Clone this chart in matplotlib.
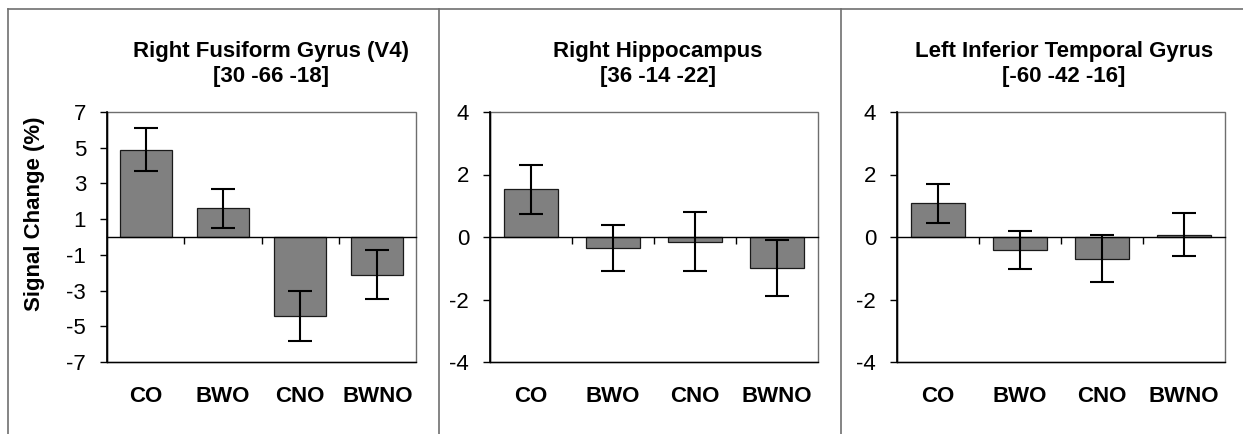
import numpy as np
import matplotlib
matplotlib.use("Agg")
import matplotlib.pyplot as plt
from matplotlib.patches import Rectangle
from matplotlib.lines import Line2D

plt.rcParams['font.family'] = ['Liberation Sans', 'DejaVu Sans']

categories = ["CO", "BWO", "CNO", "BWNO"]

titles = ["Right Fusiform Gyrus (V4)\n[30 -66 -18]",
          "Right Hippocampus\n[36 -14 -22]",
          "Left Inferior Temporal Gyrus\n[-60 -42 -16]"]

fusiform_mean = [4.9, 1.6, -4.4, -2.1]
fusiform_err = [1.2, 1.1, 1.4, 1.35]

hippocampus_mean = [1.53, -0.36, -0.15, -1.0]
hippocampus_err = [0.79, 0.73, 0.95, 0.9]

temporal_mean = [1.08, -0.42, -0.69, 0.08]
temporal_err = [0.63, 0.6, 0.75, 0.68]

yticks_1 = [-7, -5, -3, -1, 1, 3, 5, 7]
yticks_23 = [-4, -2, 0, 2, 4]

W, H = 1243, 434
fig = plt.figure(figsize=(W / 100, H / 100), dpi=100)

# axes rects in pixel units (left, right)
ax_px = [(107, 416), (490, 818), (897, 1225)]
top_px, bot_px = 112, 362
title_cx = [271, 658, 1064]

panels = [(fusiform_mean, fusiform_err, yticks_1),
          (hippocampus_mean, hippocampus_err, yticks_23),
          (temporal_mean, temporal_err, yticks_23)]

x = np.arange(len(categories))
for i, ((l, r), (mean, err, yt)) in enumerate(zip(ax_px, panels)):
    ax = fig.add_axes([l / W, (H - bot_px) / H, (r - l) / W, (bot_px - top_px) / H])
    ax.bar(x, mean, width=0.67, color='#808080', edgecolor='#1a1a1a', linewidth=0.9, zorder=2)
    ax.errorbar(x, mean, yerr=err, fmt='none', ecolor='black', elinewidth=1.5,
                capsize=8.6, capthick=1.5, zorder=3)
    ax.set_xlim(-0.5, len(categories) - 0.5)
    ax.set_ylim(yt[0], yt[-1])
    ax.set_yticks(yt)
    ax.set_yticklabels([str(v) for v in yt], fontsize=16)
    ax.tick_params(axis='y', direction='out', length=5, width=1, pad=10)
    # category axis crosses at zero, with ticks between categories
    ax.spines['bottom'].set_position(('data', 0))
    ax.spines['bottom'].set_linewidth(1)
    ax.set_xticks(x[:-1] + 0.5)
    ax.tick_params(axis='x', direction='out', length=5, width=1, labelbottom=False)
    for s in ['top', 'right']:
        ax.spines[s].set_visible(False)
    ax.spines['left'].set_linewidth(1)
    ax.add_patch(Rectangle((0, 0), 1, 1, transform=ax.transAxes, fill=False,
                           edgecolor='#6e6e6e', linewidth=1, clip_on=False, zorder=1))
    ax.plot([0, 0], [0, 1], transform=ax.transAxes, color='black', lw=1.2,
            clip_on=False, zorder=4)
    ax.plot([0, 1], [0, 0], transform=ax.transAxes, color='black', lw=1.0,
            clip_on=False, zorder=4)
    for xi, c in zip(x, categories):
        ax.text(xi, -0.14, c, transform=ax.get_xaxis_transform(), ha='center',
                va='center', fontsize=16, fontweight='bold')
    fig.text(title_cx[i] / W, 1 - 64 / H, titles[i], ha='center', va='center',
             fontsize=16, fontweight='bold', linespacing=1.25)
    if i == 0:
        fig.text(35 / W, 1 - 214 / H, "Signal Change (%)", rotation=90,
                 ha='center', va='center', fontsize=16, fontweight='bold')

# panel frame lines
frame_c = '#707070'
fig.add_artist(Line2D([7.5 / W, 1], [1 - 9 / H, 1 - 9 / H], color=frame_c, lw=1.2))
for xp in [7.5, 439, 841]:
    fig.add_artist(Line2D([xp / W, xp / W], [0, 1 - 9 / H], color=frame_c, lw=1.2))

fig.savefig("out.png", dpi=100)
